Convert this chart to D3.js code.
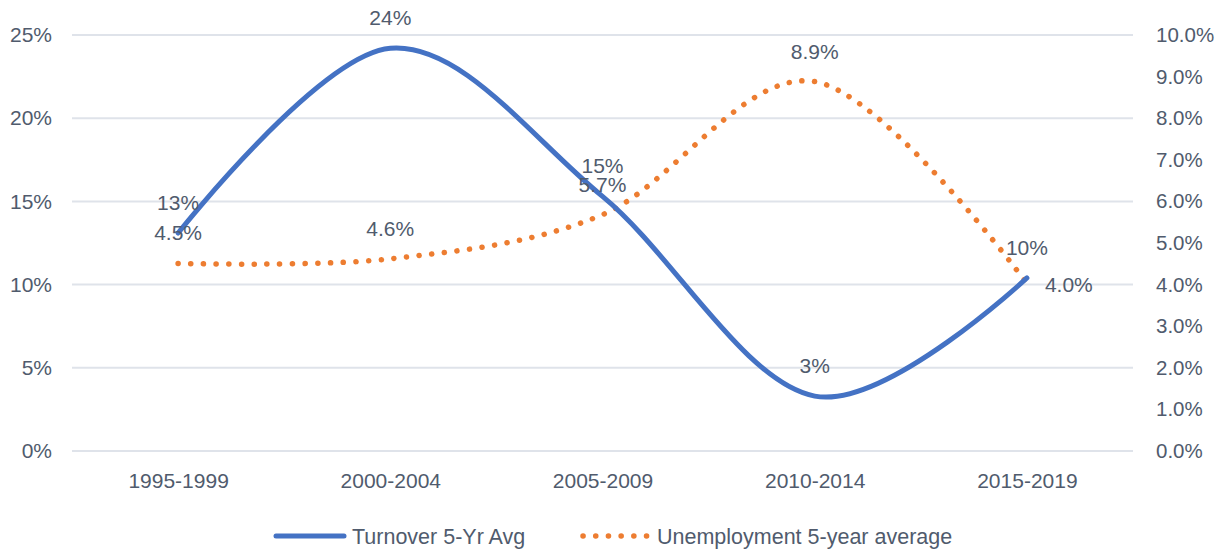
<!DOCTYPE html>
<html>
<head>
<meta charset="utf-8">
<script src="https://cdn.jsdelivr.net/npm/d3@7"></script>
<style>
  html, body { margin: 0; padding: 0; background: #fff; }
  svg { display: block; font-family: "Liberation Sans", Arial, sans-serif; }
</style>
</head>
<body>
<svg id="chart" width="1228" height="552"></svg>
<script>
const categories = ["1995-1999", "2000-2004", "2005-2009", "2010-2014", "2015-2019"];
const turnover = [13.1, 24.2, 15.3, 3.3, 10.4];
const unemployment = [4.51, 4.62, 5.68, 8.88, 4.03];
const leftTicks = [0, 5, 10, 15, 20, 25];
const rightTicks = [0, 1, 2, 3, 4, 5, 6, 7, 8, 9, 10];
const seriesNames = ["Turnover 5-Yr Avg", "Unemployment 5-year average"];

const plotL = 72, plotR = 1133, plotT = 35, plotB = 451;
const textColor = "#505b6d";
const blue = "#4472C4", orange = "#ED7D31";
const fs = 21;
const ff = "Liberation Sans, Arial, sans-serif";

const svg = d3.select("#chart");

const x = d3.scalePoint().domain(categories).range([plotL, plotR]).padding(0.5);
const yL = d3.scaleLinear().domain([0, 25]).range([plotB, plotT]);
const yR = d3.scaleLinear().domain([0, 10]).range([plotB, plotT]);

// gridlines
svg.append("g").selectAll("line").data(leftTicks).join("line")
  .attr("x1", plotL).attr("x2", plotR)
  .attr("y1", d => yL(d)).attr("y2", d => yL(d))
  .attr("stroke", "#dfe3ea").attr("stroke-width", 2);

// left axis
const axL = svg.append("g").attr("transform", `translate(${plotL},0)`)
  .call(d3.axisLeft(yL).tickValues(leftTicks).tickSize(0).tickPadding(20).tickFormat(d => d + "%"));
axL.select(".domain").remove();
axL.selectAll("text").attr("font-size", fs).attr("fill", textColor).attr("font-family", ff);

// right axis (left-aligned labels)
const axR = svg.append("g").attr("transform", `translate(${plotR},0)`)
  .call(d3.axisRight(yR).tickValues(rightTicks).tickSize(0).tickPadding(23).tickFormat(d => d.toFixed(1) + "%"));
axR.select(".domain").remove();
axR.selectAll("text").attr("font-size", 20.5).attr("fill", textColor).attr("text-anchor", "start").attr("font-family", ff);

// x axis
const axX = svg.append("g").attr("transform", `translate(0,${plotB})`)
  .call(d3.axisBottom(x).tickSize(0).tickPadding(22));
axX.select(".domain").remove();
axX.selectAll("text").attr("font-size", fs).attr("fill", textColor).attr("font-family", ff);

const curve = d3.curveCardinal.tension(0);

const lineT = d3.line().x((d, i) => x(categories[i])).y(d => yL(d)).curve(curve);
const lineU = d3.line().x((d, i) => x(categories[i])).y(d => yR(d)).curve(curve);

svg.append("path").datum(unemployment).attr("d", lineU)
  .attr("fill", "none").attr("stroke", orange).attr("stroke-width", 5.5)
  .attr("stroke-linecap", "round").attr("stroke-dasharray", "0.1 12.6");

svg.append("path").datum(turnover).attr("d", lineT)
  .attr("fill", "none").attr("stroke", blue).attr("stroke-width", 5)
  .attr("stroke-linecap", "round");

// data labels
svg.append("g").selectAll("text").data(turnover).join("text")
  .attr("x", (d, i) => x(categories[i]))
  .attr("y", d => yL(d) - 23)
  .attr("text-anchor", "middle").attr("font-size", fs).attr("fill", textColor)
  .text(d => Math.round(d) + "%");

const last = unemployment.length - 1;
svg.append("g").selectAll("text").data(unemployment).join("text")
  .attr("x", (d, i) => i === last ? x(categories[i]) + 18 : x(categories[i]))
  .attr("y", (d, i) => i === last ? yR(d) + 9 : yR(d) - 23)
  .attr("text-anchor", (d, i) => i === last ? "start" : "middle")
  .attr("font-size", fs).attr("fill", textColor)
  .text(d => d.toFixed(1) + "%");

// legend
const lg = svg.append("g");
lg.append("line").attr("x1", 276).attr("x2", 344).attr("y1", 536).attr("y2", 536)
  .attr("stroke", blue).attr("stroke-width", 5).attr("stroke-linecap", "round");
lg.append("text").attr("x", 352).attr("y", 543.5).attr("font-size", 21.5).attr("fill", textColor).text(seriesNames[0]);
lg.append("line").attr("x1", 583).attr("x2", 650).attr("y1", 536).attr("y2", 536)
  .attr("stroke", orange).attr("stroke-width", 5.5).attr("stroke-linecap", "round")
  .attr("stroke-dasharray", "0.1 12.6");
lg.append("text").attr("x", 657).attr("y", 543.5).attr("font-size", 21.5).attr("fill", textColor).text(seriesNames[1]);
</script>
</body>
</html>
